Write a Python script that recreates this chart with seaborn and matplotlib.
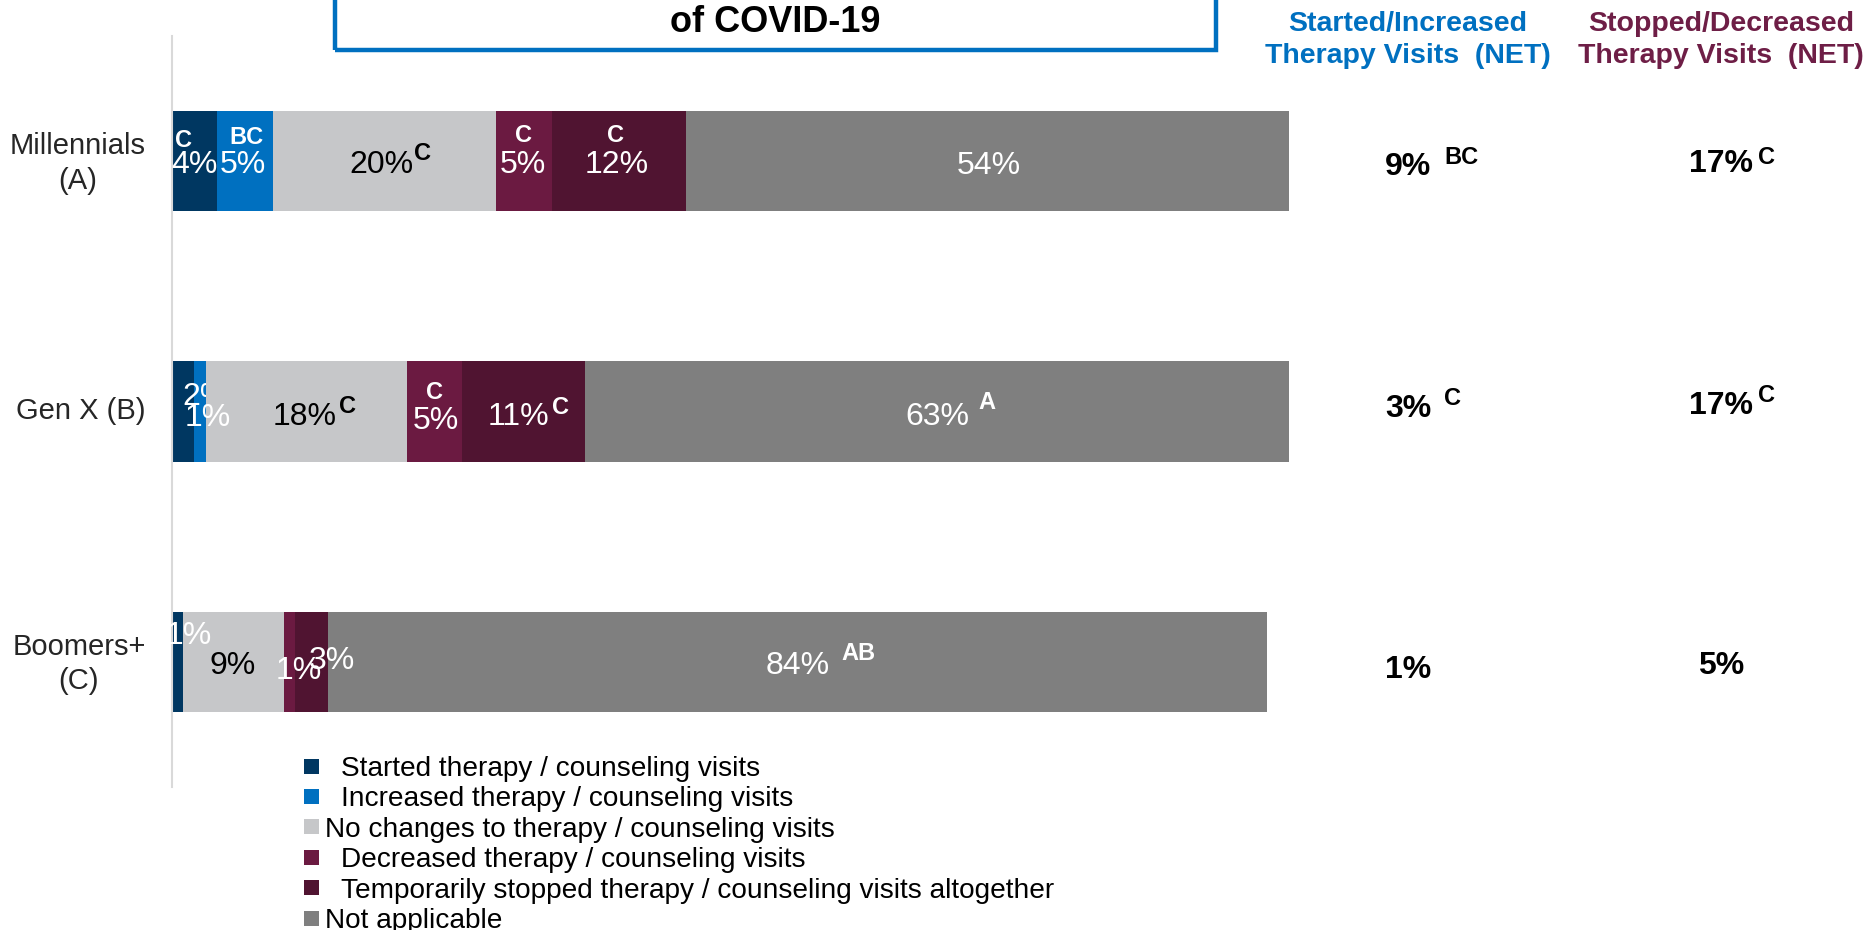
import matplotlib
matplotlib.use("Agg")
import matplotlib.pyplot as plt
from matplotlib.patches import Rectangle
from matplotlib.transforms import (Bbox, TransformedBbox, ScaledTranslation,
                                   blended_transform_factory)
import pandas as pd
import seaborn as sns

# ---- data -------------------------------------------------------------
generations = ["Millennials\n(A)", "Gen X (B)", "Boomers+\n(C)"]
responses = [
    "Started therapy / counseling visits",
    "Increased therapy / counseling visits",
    "No changes to therapy / counseling visits",
    "Decreased therapy / counseling visits",
    "Temporarily stopped therapy / counseling visits altogether",
    "Not applicable",
]
started = [4, 2, 1]
increased = [5, 1, 0]
no_change = [20, 18, 9]
decreased = [5, 5, 1]
stopped = [12, 11, 3]
not_applicable = [54, 63, 84]

# significance letters attached to each segment (row-wise)
sig_started = ["C", "", ""]
sig_increased = ["BC", "", ""]
sig_no_change = ["C", "C", ""]
sig_decreased = ["C", "C", ""]
sig_stopped = ["C", "C", ""]
sig_not_applicable = ["", "A", "AB"]

net_headers = ["Started/Increased\nTherapy Visits  (NET)",
               "Stopped/Decreased\nTherapy Visits  (NET)"]
net_started_increased = [9, 3, 1]
net_started_increased_sig = ["BC", "C", ""]
net_stopped_decreased = [17, 17, 5]
net_stopped_decreased_sig = ["C", "C", ""]

title_text = "of COVID-19"

# ---- style ------------------------------------------------------------
colors = ["#003761", "#0070c0", "#c6c7c9", "#6b1a41", "#501431", "#7f7f7f"]
text_colors = ["white", "white", "black", "white", "white", "white"]
blue = "#0070c0"
maroon = "#6e1e46"

sns.set_style("white")
plt.rcParams["font.family"] = ["Liberation Sans", "DejaVu Sans"]

W, H, DPI = 1870, 930, 100
PX = 72 / DPI  # points per pixel

fig = plt.figure(figsize=(W / DPI, H / DPI), dpi=DPI)
ax = fig.add_axes([172 / W, 1 - 787 / H, 1117 / W, 751 / H])

segments = pd.DataFrame(
    {
        "started": started,
        "increased": increased,
        "no_change": no_change,
        "decreased": decreased,
        "stopped": stopped,
        "not_applicable": not_applicable,
    },
    index=generations,
)
sigs = pd.DataFrame(
    {
        "started": sig_started,
        "increased": sig_increased,
        "no_change": sig_no_change,
        "decreased": sig_decreased,
        "stopped": sig_stopped,
        "not_applicable": sig_not_applicable,
    },
    index=generations,
)
cumulative = segments.cumsum(axis=1)

# stacked bars: draw running totals from the longest down to the shortest
for name, color in reversed(list(zip(segments.columns, colors))):
    sns.barplot(x=cumulative[name].values, y=generations, order=generations,
                color=color, saturation=1, width=0.4, errorbar=None,
                orient="h", linewidth=0, ax=ax)

ax.set_xlim(0, 100)
ax.set_ylim(2.5, -0.5)
ax.set_xlabel("")
ax.set_ylabel("")
ax.set_xticks([])
ax.set_yticks(range(len(generations)))
ax.set_yticklabels(generations, fontsize=21, multialignment="center",
                   linespacing=1.3)
ax.tick_params(axis="y", length=0, pad=19)
for lbl in ax.get_yticklabels():
    lbl.set_transform(lbl.get_transform()
                      + ScaledTranslation(0, 4 / DPI, fig.dpi_scale_trans))
for side in ["top", "right", "bottom"]:
    ax.spines[side].set_visible(False)
ax.spines["left"].set_color("#d9d9d9")
ax.spines["left"].set_linewidth(1.5)

# ---- segment labels -----------------------------------------------------
# offsets (pixels) of each value label from the segment centre: (dx, up)
label_offsets = {
    (0, 0): (0, -12), (0, 1): (-2, -12), (0, 2): (-3, -12),
    (0, 3): (-1, -12), (0, 4): (-2, -12), (0, 5): (1, -13),
    (1, 0): (22, 7), (1, 1): (8, -14), (1, 2): (-1, -13),
    (1, 3): (1, -17), (1, 4): (-5, -13), (1, 5): (0, -13),
    (2, 0): (11, 18), (2, 2): (-1, -12), (2, 3): (9, -17),
    (2, 4): (20, -7), (2, 5): (0, -12),
}
# significance letters: ("above", dx, up) from segment centre or
# ("right", gap, rise) next to the value label
sig_layout = {
    (0, 0): ("above", -11, 14), (0, 1): ("above", 2, 17),
    (0, 2): ("right", 1, 8), (0, 3): ("above", 0, 19),
    (0, 4): ("above", -3, 19),
    (1, 2): ("right", 2, 7), (1, 3): ("above", 0, 13),
    (1, 4): ("right", 2, 6), (1, 5): ("right", 9, 11),
    (2, 5): ("right", 12, 9),
}
# label clipped to the narrow started/increased area
clipped_labels = {(1, 0)}

VAL_SIZE = 23
SIG_SIZE = 17

for r, gen in enumerate(generations):
    for s, name in enumerate(segments.columns):
        value = segments.loc[gen, name]
        if value <= 0:
            continue
        centre = cumulative.loc[gen, name] - value / 2
        dx, up = label_offsets.get((r, s), (0, -12))
        txt = ax.annotate(f"{value}%", xy=(centre, r), xytext=(dx * PX, up * PX),
                          textcoords="offset points", ha="center", va="baseline",
                          fontsize=VAL_SIZE, color=text_colors[s], zorder=5)
        if (r, s) in clipped_labels:
            right_edge = cumulative.loc[gen, "increased"]
            txt.set_clip_box(TransformedBbox(
                Bbox.from_extents(0, r - 0.2, right_edge, r + 0.2),
                ax.transData))
            txt.set_clip_on(True)
        letters = sigs.loc[gen, name]
        if letters:
            kind, a, b = sig_layout[(r, s)]
            if kind == "above":
                ax.annotate(letters, xy=(centre, r), xytext=(a * PX, b * PX),
                            textcoords="offset points", ha="center",
                            va="baseline", fontsize=SIG_SIZE,
                            fontweight="bold", color=text_colors[s], zorder=6)
            else:
                ax.annotate(letters, xy=(1, 1), xycoords=txt,
                            xytext=(a * PX, b * PX), textcoords="offset points",
                            ha="left", va="top", fontsize=SIG_SIZE,
                            fontweight="bold", color=text_colors[s], zorder=6)

# ---- NET columns ----------------------------------------------------------
col_x = [1408, 1721]
col_colors = [blue, maroon]
net_values = [net_started_increased, net_stopped_decreased]
net_sigs = [net_started_increased_sig, net_stopped_decreased_sig]
net_up = [[-14, -5, -16], [-11, -2, -12]]
net_sig_gap = [13, 5]
net_sig_rise = [[6, 7, 0], [3, 7, 0]]

col_tf = blended_transform_factory(fig.transFigure, ax.transData)
for c in range(2):
    fig.text(col_x[c] / W, 1 - 40 / H, net_headers[c], ha="center",
             va="center", fontsize=20.5, fontweight="bold",
             color=col_colors[c], linespacing=1.3, multialignment="center")
    for r in range(len(generations)):
        num = ax.annotate(f"{net_values[c][r]}%", xy=(col_x[c] / W, r),
                          xycoords=col_tf, xytext=(0, net_up[c][r] * PX),
                          textcoords="offset points", ha="center",
                          va="baseline", fontsize=VAL_SIZE, fontweight="bold",
                          color="black", annotation_clip=False)
        if net_sigs[c][r]:
            ax.annotate(net_sigs[c][r], xy=(1, 1), xycoords=num,
                        xytext=(net_sig_gap[c] * PX, net_sig_rise[c][r] * PX),
                        textcoords="offset points", ha="left", va="top",
                        fontsize=SIG_SIZE, fontweight="bold", color="black",
                        annotation_clip=False)

# ---- title box ------------------------------------------------------------
fig.patches.append(Rectangle((335 / W, 1 - 50 / H), (1216 - 335) / W, 0.2,
                             transform=fig.transFigure, fill=False,
                             edgecolor=blue, linewidth=3.2, clip_on=False))
fig.text(775 / W, 1 - 32 / H, title_text, ha="center", va="baseline",
         fontsize=26, fontweight="bold", color="black")

# ---- legend ---------------------------------------------------------------
legend_indent = [True, True, False, True, True, False]
leg_top, leg_step, box = 766, 30.4, 15
for i, (label, color) in enumerate(zip(responses, colors)):
    cy = leg_top + i * leg_step
    fig.patches.append(Rectangle((304 / W, 1 - (cy + box / 2) / H), box / W,
                                 box / H, transform=fig.transFigure,
                                 facecolor=color, edgecolor="none"))
    tx = 341 if legend_indent[i] else 325
    fig.text(tx / W, 1 - (cy + 10) / H, label, ha="left", va="baseline",
             fontsize=20.2, color="black")

fig.savefig("out.png", dpi=DPI)
